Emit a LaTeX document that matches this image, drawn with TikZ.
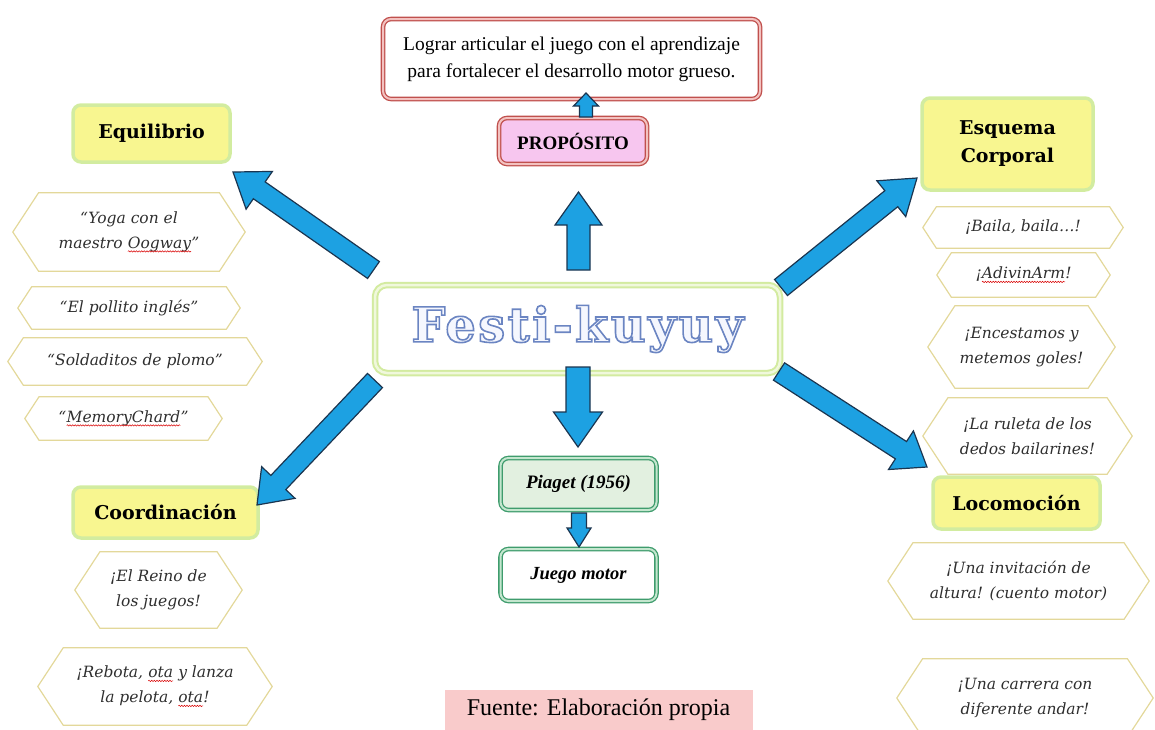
\documentclass[tikz,border=0pt]{standalone}
\usepackage{fontspec}
\setmainfont{Liberation Serif}
\newfontfamily\headfont{DejaVu Serif}
\newfontfamily\hexfont{DejaVu Serif}
\newfontfamily\festifont{DejaVu Serif}[LetterSpace=5]
\usetikzlibrary{calc,decorations.pathmorphing}

\definecolor{arrowblue}{HTML}{1DA1E2}
\definecolor{arrowline}{HTML}{1B3550}
\definecolor{hexline}{HTML}{E3D89A}
\definecolor{hexgray}{HTML}{2E2E2E}
\definecolor{headfill}{HTML}{F8F690}
\definecolor{headline}{HTML}{D2ECA0}
\definecolor{centerline}{HTML}{D3EBA0}
\definecolor{centerdouble}{HTML}{F0F8DC}
\definecolor{redline}{HTML}{C0504D}
\definecolor{reddouble}{HTML}{F3C2C0}
\definecolor{pinkfill}{HTML}{F7C6EF}
\definecolor{greenline}{HTML}{3F9C6D}
\definecolor{greendouble}{HTML}{C4E6CE}
\definecolor{piagetfill}{HTML}{E2F0E0}
\definecolor{fuentefill}{HTML}{F9CBCB}

\newcommand\spell[1]{\tikz[baseline=(sw.base)]{\node[inner sep=0pt, outer sep=0pt,
    minimum width=0pt, minimum height=0pt, align=left] (sw) {#1};
  \draw[red!85!black, line width=0.5pt, decorate, decoration={snake, amplitude=0.7pt, segment length=2.6pt}]
    ([yshift=-3pt]sw.base west) -- ([yshift=-3pt]sw.base east);}}

% outlined (fill + stroke) text via the PDF text render mode
\newcommand\outlined[1]{%
  \special{pdf:literal direct 2 Tr 1.6 w 0.42 0.52 0.76 RG 0.96 0.97 0.995 rg}%
  #1%
  \special{pdf:literal direct 0 Tr 0.4 w 0 g 0 G}}

% block arrow: tail coordinate, tip coordinate, half shaft, half head, head length
\newcommand\blockarrow[5]{%
  \path let \p1=(#1), \p2=(#2) in \pgfextra{%
    \pgfmathsetmacro\baangtmp{atan2(\y2-\y1,\x2-\x1)}%
    \pgfmathsetmacro\balentmp{veclen(\x2-\x1,\y2-\y1)}%
    \xdef\baang{\baangtmp}\xdef\balen{\balentmp}%
    \xdef\bax{\x1}\xdef\bay{\y1}};
  \draw[bigarrow, shift={(\bax,\bay)}, rotate=\baang]
    (0pt,-#3pt) -- ({\balen pt-#5pt},-#3pt) -- ({\balen pt-#5pt},-#4pt)
    -- (\balen pt,0pt) -- ({\balen pt-#5pt},#4pt) -- ({\balen pt-#5pt},#3pt)
    -- (0pt,#3pt) -- cycle;
}

% hexagon node: name, cx, cy, width, height, text
\newcommand\hexnode[6]{%
  \node[hextext, minimum width=#4pt, minimum height=#5pt] (#1) at (#2,#3) {#6};
  \pgfmathsetmacro\hexind{0.33*#5}%
  \draw[hexborder] (#1.west) -- ([xshift=\hexind pt]#1.north west)
    -- ([xshift=-\hexind pt]#1.north east) -- (#1.east)
    -- ([xshift=-\hexind pt]#1.south east) -- ([xshift=\hexind pt]#1.south west) -- cycle;
}

\begin{document}
\begin{tikzpicture}[x=1pt,y=-1pt,
  bigarrow/.style={draw=arrowline, fill=arrowblue, line width=1.2pt, line join=miter},
  hextext/.style={inner sep=0pt, align=center, text=hexgray,
    font=\hexfont\itshape\fontsize{15.5}{25}\selectfont},
  hexborder/.style={draw=hexline, line width=1.2pt},
  headbox/.style={draw=headline, line width=3.5pt, fill=headfill, rounded corners=8pt,
    inner sep=0pt, font=\headfont\bfseries\fontsize{19}{28}\selectfont},
  redbox/.style={draw=redline, double=reddouble, line width=1.3pt, double distance=2pt,
    rounded corners=8pt, inner sep=0pt},
  greenbox/.style={draw=greenline, double=greendouble, line width=1.3pt, double distance=2pt,
    rounded corners=8pt, inner sep=0pt},
  centerbox/.style={draw=centerline, double=centerdouble, line width=2pt, double distance=2.5pt,
    rounded corners=12pt, fill=white, inner sep=0pt}
]
\useasboundingbox (0,0) rectangle (1155,729);
\clip (0,0) rectangle (1155,729);

% ---- centre column ----
\node[redbox, fill=white, minimum width=377pt, minimum height=80pt, align=center,
  font=\fontsize{19.5}{27}\selectfont] (goal) at (571.5,59)
  {Lograr articular el juego con el aprendizaje\\para fortalecer el desarrollo motor grueso.};
\node[redbox, fill=pinkfill, minimum width=148pt, minimum height=46pt,
  font=\bfseries\fontsize{19}{22}\selectfont] (prop) at (573,141) {PROPÓSITO};
\node[centerbox, minimum width=405pt, minimum height=88pt] (festi) at (577.5,329)
  {\festifont\bfseries\fontsize{48}{48}\selectfont\outlined{Festi-kuyuy}};
\node[greenbox, fill=piagetfill, minimum width=156pt, minimum height=52pt,
  font=\bfseries\itshape\fontsize{19}{22}\selectfont] (piaget) at (578.5,484) {Piaget (1956)};
\node[greenbox, fill=white, minimum width=156pt, minimum height=52pt,
  font=\bfseries\itshape\fontsize{18.5}{22}\selectfont] (juego) at (578.5,575) {Juego motor};
\node[fill=fuentefill, minimum width=308pt, minimum height=40pt,
  font=\fontsize{24}{26}\selectfont] (fuente) at (598.5,710) {Fuente: Elaboración propia};

% ---- headings ----
\node[headbox, minimum width=157pt, minimum height=57pt] (equi) at (151.5,133.5) {Equilibrio};
\node[headbox, minimum width=185pt, minimum height=51pt] (coord) at (165.5,512.5) {Coordinación};
\node[headbox, minimum width=171pt, minimum height=92pt, align=center] (esq) at (1007.5,144) {Esquema\\Corporal};
\node[headbox, minimum width=167pt, minimum height=52pt] (loco) at (1016.5,503) {Locomoción};

% ---- hexagons left ----
\hexnode{l1}{129}{232}{232}{78}{“Yoga con el\\maestro \spell{Oogway}”}
\hexnode{l2}{129}{308}{222}{42}{“El pollito inglés”}
\hexnode{l3}{135}{361.5}{254}{47}{“Soldaditos de plomo”}
\hexnode{l4}{123.5}{418.5}{197}{43}{“\spell{MemoryChard}”}
\hexnode{l5}{158.5}{590}{167}{76}{¡El Reino de\\los juegos!}
\hexnode{l6}{155}{686.5}{234}{77}{¡Rebota, \spell{ota} y lanza\\la pelota, \spell{ota}!}

% ---- hexagons right ----
\hexnode{r1}{1023}{227.5}{200}{41}{¡Baila, baila…!}
\hexnode{r2}{1023.5}{275}{173}{44}{¡\spell{AdivinArm}!}
\hexnode{r3}{1021.5}{347}{187}{82}{¡Encestamos y\\metemos goles!}
\hexnode{r4}{1027.5}{436}{209}{76}{¡La ruleta de los\\dedos bailarines!}
\hexnode{r5}{1018.5}{581}{261}{76}{¡Una invitación de\\altura! (cuento motor)}
\hexnode{r6}{1025}{698}{256}{78}{¡Una carrera con\\diferente andar!}

% ---- arrow end points ----
\coordinate (nwT) at (373.5,270);  \coordinate (nwH) at (233,172);
\coordinate (swT) at (375,380.5);  \coordinate (swH) at (257,505);
\coordinate (neT) at (781,287.5);  \coordinate (neH) at (917,178);
\coordinate (seT) at (779,371.5);  \coordinate (seH) at (927,467);
\coordinate (upT) at (578.5,270);  \coordinate (upH) at (578.5,192);
\coordinate (dnT) at (578,367);    \coordinate (dnH) at (578,447);
\coordinate (spT) at (586,117);    \coordinate (spH) at (586,93);
\coordinate (sdT) at (579,513);    \coordinate (sdH) at (579,547);

\blockarrow{nwT}{nwH}{10.3}{23}{32}
\blockarrow{swT}{swH}{10.3}{23}{31}
\blockarrow{neT}{neH}{10.3}{23}{33}
\blockarrow{seT}{seH}{10.3}{23}{31}
\blockarrow{upT}{upH}{11.5}{23.5}{33}
\blockarrow{dnT}{dnH}{12}{24.5}{35}
\blockarrow{spT}{spH}{6.5}{12.5}{13}
\blockarrow{sdT}{sdH}{7.5}{12}{19}
\end{tikzpicture}
\end{document}
